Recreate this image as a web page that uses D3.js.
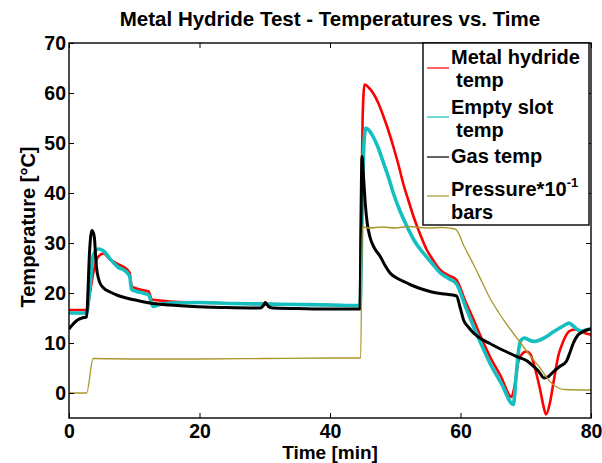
<!DOCTYPE html>
<html>
<head>
<meta charset="utf-8">
<script src="https://cdn.jsdelivr.net/npm/d3@7"></script>
<style>
  html, body { margin: 0; padding: 0; background: #fff; }
  svg text { font-family: "Liberation Sans", Arial, Helvetica, sans-serif; font-weight: bold; fill: #000; }
</style>
</head>
<body>
<svg id="chart" width="602" height="463"></svg>
<script>
// Metal hydride test: temperatures (°C) and pressure (bar * 10^-1) over time (min)

const xTicks = [0, 20, 40, 60, 80];
const yTicks = [0, 10, 20, 30, 40, 50, 60, 70];

// Metal hydride temperature
const hydrideTime = [0, 2.7, 3.2, 3.8, 4.5, 5.3, 6.3, 7.5, 8.8, 9.3, 9.6, 10.1, 11.2, 12.2, 12.7, 13.9, 15.5, 20, 25, 30, 35, 40, 44.6,
  44.8, 45.0, 45.3, 46.0, 46.6, 47.4, 48.2, 49.0, 49.7, 50.5, 51.2, 52.0, 52.8, 53.8, 54.8, 55.8, 56.9, 58.2, 59.4,
  60.7, 62.0, 63.2, 64.5, 66.2, 67.8, 68.3, 68.9, 69.5, 70.1, 70.7, 71.2, 71.7, 72.2, 72.7, 73.1, 73.7, 74.3, 75.0,
  75.8, 76.6, 77.5, 78.5, 79.5, 80];
const hydrideTemp = [16.6, 16.6, 20, 24.5, 27.3, 27.9, 26.7, 25.8, 24.8, 24.0, 21.4, 21.0, 20.6, 20.3, 18.7, 18.5, 18.3, 18.1, 17.9, 17.8, 17.7, 17.6, 17.5,
  35, 55, 61.7, 61.0, 60.0, 58.0, 55.3, 52.3, 49.3, 45.6, 42.0, 38.6, 35.3, 31.8, 28.7, 26.6, 24.6, 23.5, 22.6,
  18.5, 14.7, 11.0, 7.3, 3.3, -0.8, 1.5, 6.5, 7.9, 8.3, 7.8, 6.0, 3.5, 0.7, -2.5, -4.3, -2.0, 2.5, 7.5,
  10.5, 12.3, 12.7, 12.3, 11.8, 11.7];

// Empty slot temperature
const slotTime = [0, 2.7, 3.2, 3.7, 4.5, 5.2, 5.8, 6.3, 7.5, 8.8, 9.3, 9.6, 10.4, 11.3, 12.2, 12.9, 13.9, 15.5, 20, 25, 30, 35, 40, 44.6,
  44.9, 45.2, 45.5, 46.0, 46.6, 47.4, 48.2, 49.0, 49.7, 50.7, 51.8, 53.0, 54.3, 55.6, 56.9, 58.2, 59.4,
  60.7, 62.0, 63.2, 64.5, 66.3, 68.1, 68.5, 68.9, 69.3, 69.8, 70.5, 71.2, 71.7, 72.5, 73.2, 74.2, 75.2, 76.0, 76.6,
  77.1, 77.8, 78.5, 79.2, 80];
const slotTemp = [16.0, 16.0, 21.0, 27.5, 28.8, 28.5, 27.7, 26.8, 25.2, 24.2, 23.3, 20.7, 20.3, 20.0, 19.6, 17.3, 17.7, 18.0, 18.1, 17.9, 17.8, 17.7, 17.6, 17.5,
  35, 50, 53.0, 52.5, 51.3, 49.0, 46.0, 43.0, 40.0, 36.5, 33.3, 30.3, 28.0, 26.0, 24.0, 22.9, 21.8,
  17.5, 13.3, 9.7, 6.0, 1.8, -2.3, 3.0, 8.5, 10.6, 11.0, 10.6, 10.3, 10.4, 10.8, 11.3, 12.2, 13.0, 13.6, 14.0,
  13.6, 12.8, 12.4, 12.6, 12.8];

// Gas temperature
const gasTime = [0, 0.5, 1.2, 2.0, 2.7, 2.9, 3.1, 3.3, 3.5, 3.7, 3.9, 4.05, 4.2, 4.5, 4.75, 5.3, 6.3, 7.5, 8.8, 10.5, 12.4, 15.5, 19, 24, 29.3,
  29.8, 30.1, 30.5, 31.2, 35, 40, 44.6, 44.75, 44.9, 45.1, 45.4, 45.7, 46.1, 46.8, 47.7, 48.4, 49.2, 50.5, 51.8, 53.0, 54.3,
  55.6, 56.9, 58.2, 59.4, 59.9, 60.5, 61.2, 62.0, 63.2, 64.5, 65.8, 67.1, 68.6, 70.1, 71.3, 72.0, 72.8, 73.5, 74.2, 75.2,
  76.2, 76.8, 77.3, 78.0, 78.8, 79.6, 80];
const gasTemp = [12.8, 13.6, 14.5, 15.0, 15.2, 20, 27, 31, 32.5, 32.2, 31, 28, 25.3, 23.0, 22.0, 21.0, 20.2, 19.5, 19.0, 18.5, 18.0, 17.6, 17.3, 17.1, 17.0,
  17.5, 18.1, 17.4, 17.0, 16.9, 16.8, 16.8, 35, 47.3, 44, 38, 34, 31.3, 29.0, 27.3, 25.6, 24.0, 22.8, 22.0, 21.3, 20.7,
  20.2, 19.9, 19.7, 19.4, 17.3, 14.5, 13.2, 12.0, 10.8, 9.9, 9.0, 8.2, 7.3, 6.5, 5.2, 4.3, 3.0, 3.3, 4.2, 5.3,
  6.3, 8.2, 10.0, 11.6, 12.3, 12.7, 12.8];

// Pressure, bar * 10^-1
const pressureTime = [0, 2.7, 3.7, 10, 20, 30, 40, 44.7, 44.95, 46, 48, 50, 52, 55, 57, 59.2,
  60.6, 62.0, 63.3, 64.5, 65.8, 67.1, 68.4, 69.6, 70.9, 72.2, 73.0, 73.7, 74.4, 75.2, 76.0, 80];
const pressureValue = [0, 0, 6.9, 6.8, 6.8, 6.9, 7.0, 7.0, 33.2, 33.0, 33.2, 33.0, 33.3, 33.0, 33.1, 32.8,
  29.2, 25.7, 22.2, 19.0, 16.2, 13.7, 11.4, 9.3, 7.1, 5.0, 3.5, 2.3, 1.5, 0.9, 0.7, 0.6];

const svg = d3.select("#chart");
const plot = { left: 69, right: 591, top: 43, bottom: 418 };

const x = d3.scaleLinear().domain([0, 80]).range([plot.left, plot.right]);
const y = d3.scaleLinear().domain([-5, 70]).range([plot.bottom, plot.top]);

svg.append("rect").attr("width", 602).attr("height", 463).attr("fill", "#fff");

svg.append("clipPath").attr("id", "plotClip")
  .append("rect")
  .attr("x", plot.left).attr("y", plot.top)
  .attr("width", plot.right - plot.left).attr("height", plot.bottom - plot.top);

const series = [
  { t: hydrideTime, v: hydrideTemp, color: "#ff0000", width: 2.6 },
  { t: slotTime, v: slotTemp, color: "#14bfbf", width: 3.6 },
  { t: gasTime, v: gasTemp, color: "#000000", width: 3.0 },
  { t: pressureTime, v: pressureValue, color: "#a8982c", width: 1.3 }
];

const line = d3.line()
  .x(d => x(d[0]))
  .y(d => y(d[1]))
  .curve(d3.curveMonotoneX);

const lines = svg.append("g").attr("clip-path", "url(#plotClip)");
series.forEach(s => {
  lines.append("path")
    .datum(d3.zip(s.t, s.v))
    .attr("fill", "none")
    .attr("stroke", s.color)
    .attr("stroke-width", s.width)
    .attr("stroke-linejoin", "round")
    .attr("d", line);
});

// Axes with inward ticks on all four sides
const tickLen = 5;
const axisStyle = g => {
  g.select(".domain").remove();
  g.selectAll(".tick line").attr("stroke", "#000").attr("stroke-width", 1);
  g.selectAll(".tick text").style("font-size", "19.5px").attr("fill", "#000");
};

svg.append("g")
  .attr("transform", `translate(0,${plot.bottom})`)
  .call(d3.axisBottom(x).tickValues(xTicks).tickFormat(d3.format("d"))
    .tickSizeInner(-tickLen).tickSizeOuter(0).tickPadding(6))
  .call(axisStyle);

svg.append("g")
  .attr("transform", `translate(0,${plot.top})`)
  .call(d3.axisTop(x).tickValues(xTicks).tickFormat("")
    .tickSizeInner(-tickLen).tickSizeOuter(0))
  .call(axisStyle);

svg.append("g")
  .attr("transform", `translate(${plot.left},0)`)
  .call(d3.axisLeft(y).tickValues(yTicks).tickFormat(d3.format("d"))
    .tickSizeInner(-tickLen).tickSizeOuter(0).tickPadding(3))
  .call(axisStyle);

svg.append("g")
  .attr("transform", `translate(${plot.right},0)`)
  .call(d3.axisRight(y).tickValues(yTicks).tickFormat("")
    .tickSizeInner(-tickLen).tickSizeOuter(0))
  .call(axisStyle);

svg.append("rect")
  .attr("x", plot.left).attr("y", plot.top)
  .attr("width", plot.right - plot.left).attr("height", plot.bottom - plot.top)
  .attr("fill", "none").attr("stroke", "#000").attr("stroke-width", 1.4);

// Titles
svg.append("text")
  .attr("x", 330).attr("y", 26)
  .attr("text-anchor", "middle")
  .style("font-size", "20.5px")
  .text("Metal Hydride Test - Temperatures vs. Time");

svg.append("text")
  .attr("x", 330).attr("y", 459)
  .attr("text-anchor", "middle")
  .style("font-size", "19px")
  .text("Time [min]");

svg.append("text")
  .attr("transform", "translate(35,227) rotate(-90)")
  .attr("text-anchor", "middle")
  .style("font-size", "20px")
  .text("Temperature [°C]");

// Legend
const legend = svg.append("g");
legend.append("rect")
  .attr("x", 423).attr("y", 43).attr("width", 166).attr("height", 182)
  .attr("fill", "#fff").attr("stroke", "#000").attr("stroke-width", 1.4);

const legendRows = [
  { lineY: 68, lines: [[451, 64, "Metal hydride"], [456, 87, "temp"]] },
  { lineY: 117, lines: [[451, 113.5, "Empty slot"], [456, 137, "temp"]] },
  { lineY: 157, lines: [[451, 163, "Gas temp"]] },
  { lineY: 196, lines: [[451, 196, "Pressure*10"], [451, 218.5, "bars"]], sup: "-1" }
];

legendRows.forEach((row, i) => {
  legend.append("line")
    .attr("x1", 427).attr("x2", 449)
    .attr("y1", row.lineY).attr("y2", row.lineY)
    .attr("stroke", series[i].color).attr("stroke-width", 1.2);
  row.lines.forEach(([lx, ly, txt], j) => {
    const t = legend.append("text")
      .attr("x", lx).attr("y", ly)
      .style("font-size", "20px")
      .text(txt);
    if (row.sup && j === 0) {
      t.append("tspan").attr("dy", -9).style("font-size", "13px").text(row.sup);
    }
  });
});
</script>
</body>
</html>
